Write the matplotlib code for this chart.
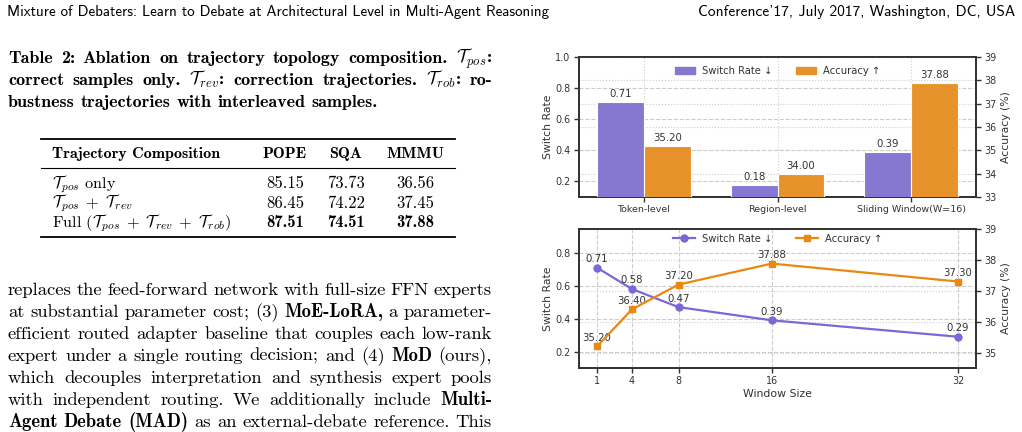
import numpy as np
import matplotlib
matplotlib.use('Agg')
import matplotlib.pyplot as plt
from matplotlib.transforms import IdentityTransform
from matplotlib.patches import Patch
from matplotlib.lines import Line2D

W, H = 1022, 432

# chart data
categories = ['Token-level', 'Region-level', 'Sliding Window(W=16)']
bar_switch = [0.71, 0.18, 0.39]
bar_acc = [35.20, 34.00, 37.88]

window_sizes = [1, 4, 8, 16, 32]
line_switch = [0.71, 0.58, 0.47, 0.39, 0.29]
line_acc = [35.20, 36.40, 37.20, 37.88, 37.30]

# table data
table_header = ['Trajectory Composition', 'POPE', 'SQA', 'MMMU']
table_rows = [r'$\mathcal{T}_{pos}$ only',
              r'$\mathcal{T}_{pos}\;+\;\mathcal{T}_{rev}$',
              r'Full $(\mathcal{T}_{pos}\;+\;\mathcal{T}_{rev}\;+\;\mathcal{T}_{rob})$']
pope = [85.15, 86.45, 87.51]
sqa = [73.73, 74.22, 74.51]
mmmu = [36.56, 37.45, 37.88]

header_left = 'Mixture of Debaters: Learn to Debate at Architectural Level in Multi-Agent Reasoning'
header_right = "Conference'17, July 2017, Washington, DC, USA"

caption = [r'Table 2: Ablation on trajectory topology composition. $\mathcal{T}_{pos}$:',
           r'correct samples only. $\mathcal{T}_{rev}$: correction trajectories. $\mathcal{T}_{rob}$: ro-',
           'bustness trajectories with interleaved samples.']

body = ['replaces the feed-forward network with full-size FFN experts',
        'at substantial parameter cost; (3) **MoE-LoRA,** a parameter-',
        'efficient routed adapter baseline that couples each low-rank',
        'expert under a single routing decision; and (4) **MoD** (ours),',
        'which decouples interpretation and synthesis expert pools',
        'with independent routing. We additionally include **Multi-**',
        '**Agent Debate (MAD)** as an external-debate reference. This']

purple = '#8677D0'
orange = '#E8922C'
purple_line = '#7B68D6'
orange_line = '#E98812'
dark = '#333333'

plt.rcParams['mathtext.fontset'] = 'cm'
plt.rcParams['axes.unicode_minus'] = False

fig = plt.figure(figsize=(W / 100, H / 100), dpi=100)
renderer = fig.canvas.get_renderer()


def put(x, y, s, bold=False, size=13, family=None, **kw):
    fam = family or ('cmb10' if bold else 'cmr10')
    return fig.text(x, H - y, s, fontsize=size, family=fam,
                    transform=IdentityTransform(), va='baseline', **kw)


def words_of(line, bold):
    words = []
    for w in line.split(' '):
        segs = []
        for i, p in enumerate(w.split('**')):
            if i > 0:
                bold = not bold
            if p:
                segs.append((p, bold))
        words.append(segs)
    return words, bold


def draw_line(line, x0, x1, y, size, bold=False, justify=True):
    words, bold = words_of(line, bold)
    placed = []
    for segs in words:
        ts = [put(0, y, s, b, size) for s, b in segs]
        ws = [t.get_window_extent(renderer).width for t in ts]
        placed.append((ts, ws))
    total = sum(sum(ws) for ts, ws in placed)
    if justify:
        gap = (x1 - x0 - total) / (len(words) - 1)
    else:
        gap = size * 100 / 72 * 0.333
    x = x0
    for ts, ws in placed:
        xx = x
        for t, wi in zip(ts, ws):
            t.set_x(xx)
            xx += wi
        x = xx + gap
    return bold


# page header
put(7, 16, header_left, size=10.8, family='cmss10')
put(1015, 16, header_right, size=11.1, family='cmss10', ha='right')

# caption
for i, line in enumerate(caption):
    draw_line(line, 8, 492, 63 + 22 * i, 13, bold=True, justify=(i < len(caption) - 1))

# table
for yy, lw in [(139, 1.3), (168, 0.8), (237, 1.3)]:
    fig.add_artist(Line2D([41, 455], [H - yy, H - yy], transform=IdentityTransform(),
                          color='black', lw=lw))
col_x = [52, 285, 346, 415]
put(col_x[0], 158, table_header[0], bold=True, size=11.5)
for cx, name in zip(col_x[1:], table_header[1:]):
    put(cx, 158, name, bold=True, size=11.5, ha='center')
for i, label in enumerate(table_rows):
    yy = 188 + 19.7 * i
    best = i == len(table_rows) - 1
    put(col_x[0], yy, label, size=11.7)
    for cx, vals in zip(col_x[1:], [pope, sqa, mmmu]):
        put(cx, yy, f'{vals[i]:.2f}', bold=best, size=11.9, ha='center')

# body paragraph
state = False
for i, line in enumerate(body):
    state = draw_line(line, 8, 492, 295 + 22 * i, 13.4, bold=state)


def style(ax, axr):
    for a in (ax, axr):
        for sp in a.spines.values():
            sp.set_color(dark)
            sp.set_linewidth(1.3)
        a.tick_params(colors=dark, labelsize=6.9, length=3.5, width=1, direction='out', pad=2.5)
    ax.set_ylabel('Switch Rate', fontsize=7.8, color=dark, labelpad=2)
    axr.set_ylabel('Accuracy (%)', fontsize=7.8, color=dark, labelpad=3)
    axr.grid(axis='y', ls=':', color='#cccccc', lw=0.8)
    ax.set_zorder(axr.get_zorder() + 1)
    ax.patch.set_visible(False)


legend_kw = dict(loc='upper center', ncol=2, frameon=False, fontsize=7.2,
                 handletextpad=0.7, columnspacing=2.3, labelcolor=dark)
ann_kw = dict(textcoords='offset points', ha='center', va='baseline', fontsize=7.3, color=dark)

# bar chart
ax1 = fig.add_axes([579 / W, 1 - 197 / H, 397 / W, 140 / H])
ax1b = ax1.twinx()
x = np.arange(len(categories))
w = 0.35
ax1.bar(x - w / 2, bar_switch, w, color=purple, edgecolor='white', lw=0.8, zorder=3)
ax1.bar(x + w / 2, bar_acc, w, color=orange, edgecolor='white', lw=0.8, zorder=3,
        transform=ax1b.transData)
for xi, v in zip(x, bar_switch):
    ax1.annotate(f'{v:.2f}', (xi - w / 2, v), xytext=(0, 3.5), **ann_kw)
for xi, v in zip(x, bar_acc):
    ax1.annotate(f'{v:.2f}', (xi + w / 2, v), xycoords=ax1b.transData, xytext=(0, 3.5), **ann_kw)
ax1.set_xlim(-0.485, 2.485)
ax1.set_ylim(0.1, 1.0)
ax1b.set_ylim(33, 39)
ax1.set_xticks(x)
ax1.set_xticklabels(categories)
ax1.set_yticks([0.2, 0.4, 0.6, 0.8, 1.0])
ax1b.set_yticks(range(33, 40))
ax1.grid(axis='y', ls='--', color='#cccccc', lw=0.8)
ax1.grid(axis='x', ls=':', color='#cccccc', lw=0.8)
ax1.set_axisbelow(True)
style(ax1, ax1b)
ax1.tick_params(axis='x', labelsize=6.8)
ax1.legend([Patch(color=purple), Patch(color=orange)], ['Switch Rate ↓', 'Accuracy ↑'],
           bbox_to_anchor=(0.5, 1.0), handlelength=2.0, **legend_kw)

# line chart
ax2 = fig.add_axes([579 / W, 1 - 368 / H, 397 / W, 139 / H])
ax2b = ax2.twinx()
ax2.plot(window_sizes, line_switch, '-o', color=purple_line, lw=1.6, ms=5, zorder=3)
ax2.plot(window_sizes, line_acc, '-s', color=orange_line, lw=1.6, ms=5, zorder=4,
         transform=ax2b.transData)
for xv, v in zip(window_sizes, line_switch):
    ax2.annotate(f'{v:.2f}', (xv, v), xytext=(0, 4), **ann_kw)
for xv, v in zip(window_sizes, line_acc):
    ax2.annotate(f'{v:.2f}', (xv, v), xycoords=ax2b.transData, xytext=(0, 4), **ann_kw)
ax2.set_xlim(-0.55, 33.55)
ax2.set_ylim(0.1, 0.945)
ax2b.set_ylim(34.5, 39)
ax2.set_xticks(window_sizes)
ax2.set_yticks([0.2, 0.4, 0.6, 0.8])
ax2b.set_yticks(range(35, 40))
ax2.grid(ls='--', color='#cccccc', lw=0.8)
ax2.set_axisbelow(True)
style(ax2, ax2b)
ax2.set_xlabel('Window Size', fontsize=7.8, color=dark, labelpad=2)
ax2.legend([Line2D([], [], color=purple_line, marker='o', lw=1.6, ms=5),
            Line2D([], [], color=orange_line, marker='s', lw=1.6, ms=5)],
           ['Switch Rate ↓', 'Accuracy ↑'], bbox_to_anchor=(0.5, 1.03), handlelength=2.2,
           **legend_kw)

fig.savefig('out.png', dpi=100)
